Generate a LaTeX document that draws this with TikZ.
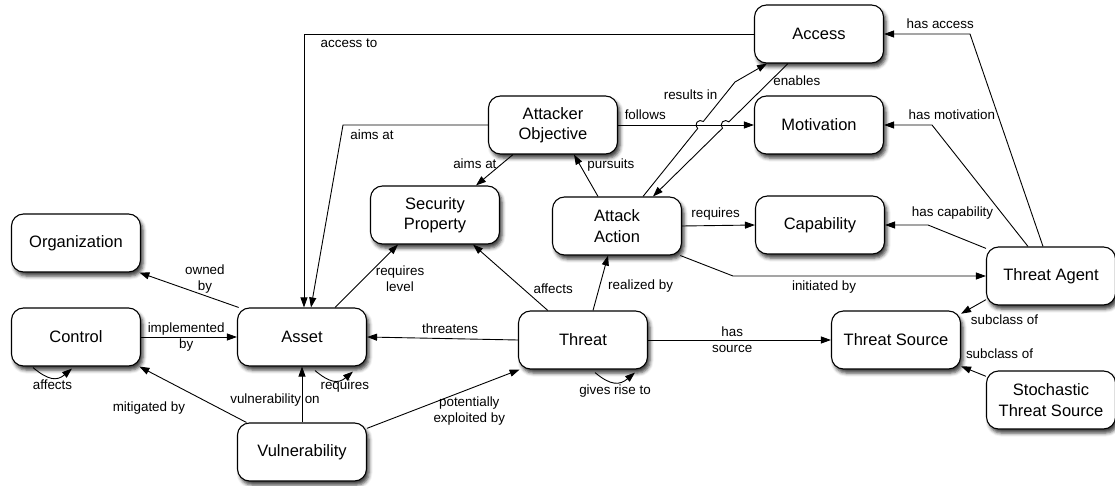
\documentclass[tikz,border=0pt]{standalone}
\usepackage{fontspec}
\setmainfont{Liberation Sans}
\usetikzlibrary{arrows.meta,calc,shadows.blur}
\begin{document}
\begin{tikzpicture}[
x=1pt, y=1pt,
concept/.style={rectangle, rounded corners=12pt, draw=black, line width=1.1pt, fill=white, minimum width=129pt, minimum height=58pt, align=center, font=\fontsize{16.5}{20.5}\selectfont, blur shadow={shadow xshift=2.5pt, shadow yshift=-4pt, shadow blur radius=3.5pt, shadow opacity=75}},
rel/.style={draw=black, line width=0.9pt, -{Triangle[length=10pt, width=7pt]}},
lbl/.style={font=\fontsize{13.4}{16}\selectfont, inner sep=2pt, align=center},
]
\useasboundingbox (0,0) rectangle (1115,-486);
\node[concept] (Acc) at (819,-34) {Access};
\node[concept] (Mot) at (819,-125) {Motivation};
\node[concept] (Cap) at (820,-225) {Capability};
\node[concept] (TA) at (1051,-276) {Threat Agent};
\node[concept] (TS) at (896,-340) {Threat Source};
\node[concept] (STS) at (1051,-400) {Stochastic\\Threat Source};
\node[concept] (AO) at (553,-125) {Attacker\\Objective};
\node[concept] (SP) at (435,-215) {Security\\Property};
\node[concept] (AA) at (617,-226) {Attack\\Action};
\node[concept] (Thr) at (583,-340) {Threat};
\node[concept] (Ast) at (302,-337) {Asset};
\node[concept] (Ctl) at (76,-337) {Control};
\node[concept] (Org) at (76,-243) {Organization};
\node[concept] (Vul) at (302,-452) {Vulnerability};
\coordinate (c1) at (343,-125);
\coordinate (c2) at (735,-82);
\coordinate (c3) at (733,-276);
\coordinate (c4) at (970,-34);
\coordinate (c5) at (932,-125);
\coordinate (c6) at (928,-225);
\coordinate (ra) at ([xshift=26pt]AA.north);
\coordinate (eb) at ([xshift=36pt]AA.north);
\coordinate (en) at ([xshift=-31pt]Acc.south);
\coordinate (h1) at (intersection of ra--c2 and AO.east--Mot.west);
\coordinate (h2) at (intersection of en--eb and AO.east--Mot.west);
\draw[rel] (Acc.west) -| node[lbl, below=2pt, pos=0.45] {access to} ([xshift=2pt]Ast.north);
\draw[rel] (AO.west) -- node[lbl, below=2pt, pos=0.8] {aims at} (c1) -- ([xshift=9pt]Ast.north);
\draw[rel] ([xshift=-40pt]AO.south) -- node[lbl, left=3pt, pos=0.3] {aims at} ([xshift=41pt]SP.north);
\draw[rel] ([xshift=-19pt]AA.north) -- node[lbl, right=5pt, pos=0.75] {pursuits} ([xshift=21pt]AO.south);
\draw[rel] (AO.east) -- node[lbl, above=3pt, pos=0.2] {follows} (Mot.west);
\draw[rel] (ra) -- ($(h1)!4.5pt!(ra)$) arc[start angle=231.3, delta angle=-180, radius=4.5pt] -- node[lbl, left=5pt, pos=0.68] {results in} (c2) -- ([xshift=-52pt]Acc.south);
\draw[rel] (en) -- node[lbl, right, pos=0.29] {enables} ($(h2)!4.5pt!(en)$) arc[start angle=44.8, delta angle=180, radius=4.5pt] -- (eb);
\draw[rel] (AA.east) -- node[lbl, above=3pt, pos=0.46] {requires} (Cap.west);
\draw[rel] (AA.-25) -- (c3) -- node[lbl, below=2pt, pos=0.36] {initiated by} (TA.west);
\draw[rel] ([xshift=-8pt]TA.north) -- (c4) -- node[lbl, above right=3pt, pos=0.8] {has access} (Acc.east);
\draw[rel] ([xshift=-23pt]TA.north) -- (c5) -- node[lbl, above right=3pt, pos=0.6] {has motivation} (Mot.east);
\draw[rel] (TA.157) -- (c6) -- node[lbl, above right=3pt, pos=0.5] {has capability} (Cap.east);
\draw[rel] (TA.200) -- node[lbl, below right, pos=0.7, yshift=-3pt] {subclass of} (TS.22);
\draw[rel] (STS.160) -- node[lbl, above right, pos=0.9, yshift=6pt] {subclass of} (TS.-22);
\draw[rel] (Thr.east) -- node[lbl, pos=0.46] {has\\source} (TS.west);
\draw[rel] ([xshift=10pt]Thr.north) -- node[lbl, right=6pt, pos=0.45] {realized by} ([xshift=-9pt]AA.south);
\draw[rel] (Thr.140) -- node[lbl, right=8pt, pos=0.33] {affects} ([xshift=38pt]SP.south);
\draw[rel] (Thr.west) -- node[lbl, above=3pt, pos=0.45] {threatens} (Ast.east);
\draw[rel] ([xshift=33pt]Ast.north) -- node[lbl, right=10pt, pos=0.45] {requires\\level} ([xshift=-37pt]SP.south);
\draw[rel] (Ast.155) -- node[lbl, above, pos=0.34] {owned\\by} (Org.-25);
\draw[rel] (Ctl.east) -- node[lbl, pos=0.47] {implemented\\by} (Ast.west);
\draw[rel] (Vul.north) -- node[lbl, pos=0.4, xshift=-27pt] {vulnerability on} (Ast.south);
\draw[rel] (Vul.152) -- node[lbl, pos=0.5, xshift=-44pt, yshift=-14pt] {mitigated by} (Ctl.-25);
\draw[rel] (Vul.20) -- node[lbl, below=5pt, pos=0.67] {potentially\\exploited by} (Thr.205);
\draw[rel] ([xshift=-43pt, yshift=-1pt]Ctl.south) to[out=-40, in=-140, looseness=1.3] node[lbl, below, pos=0.5] {affects} ([xshift=-4pt, yshift=-2pt]Ctl.south);
\draw[rel] ([xshift=13pt, yshift=-4pt]Ast.south) to[out=-40, in=-140, looseness=1.3] node[lbl, below, pos=0.8] {requires} ([xshift=51pt, yshift=-5pt]Ast.south);
\draw[rel] ([xshift=12pt, yshift=-3pt]Thr.south) to[out=-40, in=-140, looseness=1.3] node[lbl, below, pos=0.5] {gives rise to} ([xshift=52pt, yshift=-3pt]Thr.south);
\end{tikzpicture}
\end{document}
